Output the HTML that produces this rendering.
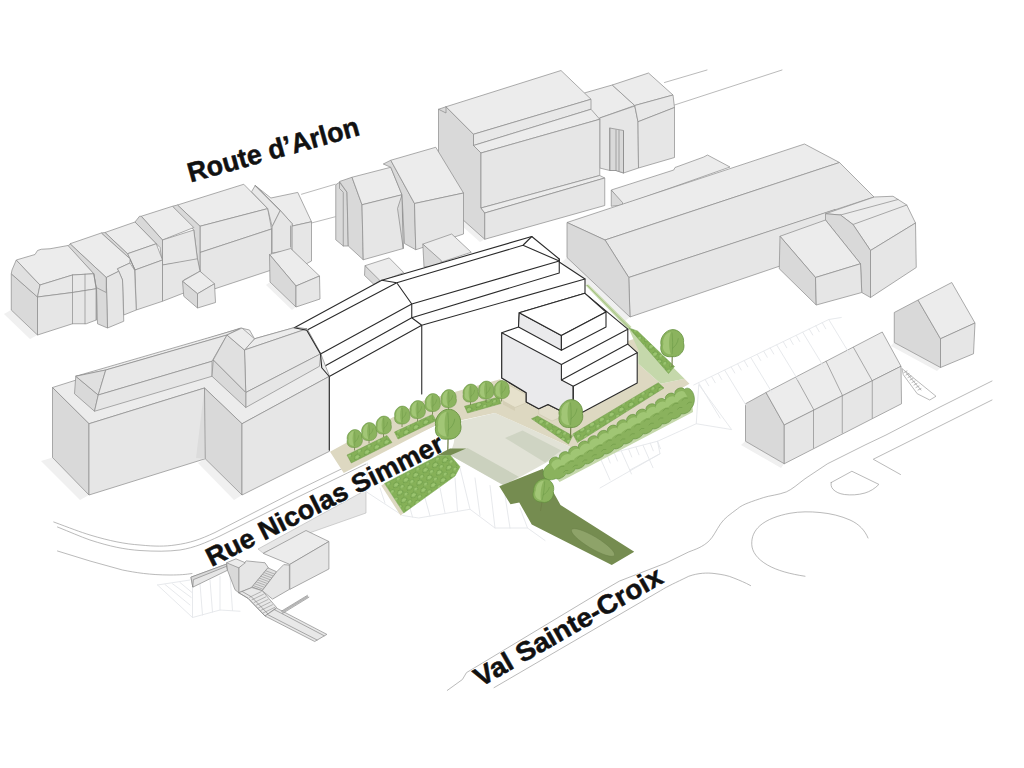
<!DOCTYPE html>
<html><head><meta charset="utf-8"><title>Site axonometric</title>
<style>
html,body{margin:0;padding:0;background:#fff;}
body{width:1024px;height:768px;overflow:hidden;font-family:"Liberation Sans",sans-serif;}
svg{display:block;position:absolute;left:0;top:0}
.t{fill:#ececec}.f{fill:#e8e8e8}.w{fill:#e6e6e6}.s{fill:#d9d9d9}.m{fill:#e0e0e0}
.t,.f,.w,.s,.m{stroke:#8a8a8a;stroke-width:.7;stroke-linejoin:round;vector-effect:non-scaling-stroke}
.l{fill:none;stroke:#8a8a8a;stroke-width:.7;vector-effect:non-scaling-stroke;stroke-linecap:round;stroke-linejoin:round}
.g{fill:none;stroke:#9c9c9c;stroke-width:.7;vector-effect:non-scaling-stroke;stroke-linecap:round;stroke-linejoin:round}
.k{fill:#fff;stroke:#2b2b2b;stroke-width:1.1;vector-effect:non-scaling-stroke;stroke-linejoin:round}
.kl{fill:none;stroke:#2b2b2b;stroke-width:1.1;stroke-linecap:round;vector-effect:non-scaling-stroke;stroke-linejoin:round}
text{font-family:"Liberation Sans",sans-serif;font-weight:bold;fill:#111}
.ks{fill:#eaeaec;stroke:#2b2b2b;stroke-width:1.1;vector-effect:non-scaling-stroke;stroke-linejoin:round}
.h{fill:none;stroke:#e4e6ea;stroke-width:.9;vector-effect:non-scaling-stroke;stroke-linecap:round;stroke-linejoin:round}
</style></head><body>
<svg width="1024" height="768" viewBox="0 0 1024 768">
<defs>
<pattern id="hp" width="44" height="34" patternUnits="userSpaceOnUse" patternTransform="rotate(-27)">
<rect width="44" height="34" fill="#86b158"/>
<path d="M2,17q3,-17 15,-15q11,1 11,13q-13,8 -26,2Z" fill="#9cc570" stroke="#5f8f3c" stroke-width="2.6"/>
<path d="M22,33q3,-15 13,-13q9,1 8,11q-10,6 -21,2Z" fill="#9cc570" stroke="#659541" stroke-width="2.4"/>
</pattern>
<g id="tree">
<path d="M0,0L.3,-13" stroke="#71824a" stroke-width="1" fill="none"/>
<path d="M0,-9C-7,-8 -11,-13 -9.5,-19C-11,-25 -6,-32 0,-32.5C6,-33 11,-27 10,-21C12,-15 7,-8 0,-9Z" fill="#8bb35e" stroke="#65913f" stroke-width=".7"/>
<path d="M-1,-11C-6,-11 -9,-15 -7.5,-20C-8.5,-25 -5,-30 -1,-30.5C-3,-25 -3,-17 -1,-11Z" fill="#a2c676"/>
<path d="M0,-11C1,-18 .5,-25 0,-30M0,-16C3,-18 5,-21 5.5,-25" stroke="#6c9a47" stroke-width=".5" fill="none"/>
</g>
<g id="tree2">
<path d="M0,0L.2,-8" stroke="#71824a" stroke-width="1.1" fill="none"/>
<g transform="translate(0,5)">
<path d="M0,-9C-7,-8 -11,-13 -9.5,-19C-11,-25 -6,-32 0,-32.5C6,-33 11,-27 10,-21C12,-15 7,-8 0,-9Z" fill="#8bb35e" stroke="#65913f" stroke-width=".7"/>
<path d="M-1,-11C-6,-11 -9,-15 -7.5,-20C-8.5,-25 -5,-30 -1,-30.5C-3,-25 -3,-17 -1,-11Z" fill="#a2c676"/>
<path d="M0,-11C1,-18 .5,-25 0,-30M0,-16C3,-18 5,-21 5.5,-25" stroke="#65913f" stroke-width=".5" fill="none"/>
</g></g>
</defs>
<rect width="1024" height="768" fill="#fff"/>
<g id="roads">
<path class="g" d="M53.75,522C70,528 80,532 90,535C110,541 125,544 140,545C155,546.5 165,546.5 175,545C190,543 200,539.5 215,532.5L296,491L347.5,466L437.5,424"/>
<path class="g" d="M57.5,527C70,532 80,536.5 90,540C110,546.5 125,549.5 140,550.5C155,551.5 168,551.5 180,550C195,547.5 205,543 220,536L296,498L366,464"/>
<path class="g" d="M57.5,551L90,561L122.5,570C135,572.5 150,575 170,575C180,575 186,574.5 192,573.5"/>
<polygon points="258,549 366,490 366,513 312,532 290,541 263,553" fill="#e7e7e7" stroke="#b5b5b5" stroke-width=".6"/>
<path class="g" d="M992,381L940,407L886,435L865,445L827.5,463.75L805,478.75C798,484 792,489.5 786.25,491.9C778,495 770,495.5 763.75,497.5C752,501.5 743,504 737.5,508.75C730,514.5 724.5,518 720.6,523.75C716,530.5 713.5,536.5 709.4,540.6C703,547 695,549.5 688.75,551.9L666,563L619.6,581L600.5,592L466.5,672.6L462.4,679.5L447.3,690.4"/>
<path class="g" d="M494,687.7L660.6,590.6C668,586 675,583 688.75,576.25C698,573 707,572.5 715,573.6C722,574.5 728,575.5 733.75,578C740,580.5 745,582.5 750.6,585.6"/>
<path class="g" d="M805,576.25C790,574 777,570.5 767.5,565C757,559 752,551.5 751.75,544.4C751.5,537 754,531 760,525.6C767,519.5 778,515.5 790,513.25C800,511.5 810,511.5 820,512.5C831,513.5 841,516 850,520C859,524 865,530.5 868,538"/>
<path class="g" d="M831.25,482.5L851.9,471.25L878.9,484.4C875,488.5 870,491.5 865,493C858,495 851,495.3 844.4,494.5C839.5,493.8 835.5,492 833,489.25C831,487 830.8,484.5 831.25,482.5Z"/>
<path class="g" d="M992,400L873.25,459.25L900.5,474.5"/>
<path class="g" d="M664.5,82.5L707,70M674.5,105L782,70M301.5,194.25L335.25,184.25M311.5,223L335.25,216.75"/>
</g>

<g id="shadows" fill="#f0f0f0">
<polygon points="52.5,457.5 89,495 80,500 41,461"/>
<polygon points="205.25,458.75 242,495 234,500 198,463"/>
<polygon points="11,310 37.5,335 30,339 4,314"/>
<polygon points="745.5,441 784,464 781,468 741,445"/>
<polygon points="894,342.5 940.5,367.5 937,371 891,346"/>
<polygon points="567,257.5 630,317 625,321 562,262"/>
<polygon points="438.5,198 484.75,239.25 480,242 434,201"/>
<polygon points="270,282 296,307 292,310 266,285"/>
</g>
<!--T1: left row of buildings-->
<g id="t1" transform="translate(0,160) scale(.25)">
<!-- E big -->
<g transform="scale(4) translate(0,-160)">
<polygon class="t" points="177.5,205 243.75,184.25 267.75,208.6 200,226.25"/>
<polygon class="f" points="200,226.25 267.75,208.6 271.5,229 200,252.5"/>
<polygon class="w" points="200,252.5 271.5,229 271.5,270 215,288.75 200,271"/>
</g>
<polygon class="s" points="710,180 800,265 800,445 790,400 775,280 690,185"/>
<!-- D -->
<polygon class="t" points="565,225 690,185 775,270 650,320"/>
<polygon class="f" points="650,320 775,280 790,400 650,420"/>
<polygon class="w" points="650,420 790,395 800,445 735,480 740,530 650,565"/>
<polygon class="s" points="565,225 650,320 650,420 640,350 625,335 540,248 558,225"/>
<!-- C -->
<polygon class="t" points="420,290 540,248 625,335 510,375"/>
<polygon class="f" points="510,375 625,335 650,400 540,440"/>
<polygon class="w" points="540,440 650,400 650,565 545,600"/>
<polygon class="s" points="420,290 510,375 540,440 520,395 405,292"/>
<!-- B -->
<polygon class="t" points="280,335 405,292 520,395 520,412 470,435 475,445 425,470"/>
<polygon class="f" points="475,445 470,435 520,412 538,440 540,480 545,600 495,620 490,480"/>
<polygon class="w" points="425,470 475,445 490,480 495,645 430,672"/>
<polygon class="s" points="385,470 425,470 430,672 390,655"/>
<polygon class="s" points="280,335 425,470 425,530 385,510 375,455 272,345"/>
<!-- A -->
<polygon class="s" points="45,455 45,600 150,700 150,548"/>
<polygon class="m" points="45,455 48,440 65,400 160,500 150,548"/>
<polygon class="t" points="65,400 140,378 150,362 165,357 200,355 272,342 375,455 290,460 160,500"/>
<polygon class="f" points="160,500 290,460 375,455 385,515 290,530 150,548"/>
<polygon class="w" points="150,548 290,530 385,515 385,640 345,655 290,655 150,700"/>
<path class="l" d="M290,460V655M340,457V655M375,455L385,515V640"/>
<!-- shed -->
<polygon class="t" points="730,485 800,445 858,495 790,535"/>
<polygon class="s" points="730,485 790,535 790,592 735,545"/>
<polygon class="w" points="790,535 858,495 862,570 790,592"/>
</g>
<!--T2: F house, G shed-->
<g id="t2">
<polygon class="f" points="255.25,185.5 251.5,191.75 267.75,208.6 272.1,226.75 280.25,210.5"/>
<polygon class="t" points="270.9,198 297.75,192.4 311.5,221.75 292.1,226.1 292.1,223.6 280.25,210.5 255.25,185.5"/>
<polygon class="w" points="272.1,226.75 280.25,210.5 292.1,223.6 292.1,250 272.1,253"/>
<polygon class="w" points="292.1,226.1 311.5,221.75 311.5,261 306,264 292.1,250"/>
<path class="l" d="M255.25,185.5L280.25,210.5M290.5,226V247"/>
<polygon class="t" points="269.5,254.5 290.75,248.5 319.5,276 296,286"/>
<polygon class="s" points="269.5,254.5 296,286 296,307 270,282"/>
<polygon class="w" points="296,286 319.5,276 320,299 296,307"/>
</g>
<!--T3: big top building L + M-->
<g id="t3" transform="translate(416,48) scale(.25)">
<polygon class="t" points="650,190 680,178 785,148 875,230 735,280 700,300"/>
<polygon class="w" points="735,280 875,232 888,295 890,480 830,500 800,490 775,490 735,480"/>
<polygon class="s" points="775,320 830,330 830,500 800,490 775,490"/>
<path class="l" d="M775,320V490M800,328V490M812,330V492M830,332V500"/>
<polygon class="t" points="785,148 930,100 1028,188 875,230"/>
<polygon class="f" points="875,230 1028,188 1034,238 888,295"/>
<polygon class="w" points="888,295 1034,238 1034,438 890,480"/>
<polygon class="s" points="90,245 120,235 230,345 230,390 260,420 260,640 275,660 275,765 90,600"/>
<polygon class="t" points="120,235 580,90 700,205 230,345"/>
<polygon class="f" points="230,345 700,205 700,245 230,390"/>
<polygon class="t" points="230,390 700,245 735,285 260,420"/>
<polygon class="w" points="260,420 735,285 735,510 260,640"/>
<polygon class="t" points="260,640 735,510 755,520 275,660"/>
<polygon class="w" points="275,660 755,520 755,630 275,765"/>
<path class="l" d="M90,245L120,260V235"/>
</g>
<!--T2b: H, I-->
<g id="t2b" transform="translate(192,96) scale(.25)">
<polygon class="s" points="575,355 590,345 620,385 625,600 605,600 575,575"/>
<path class="l" d="M590,345V370L605,385V600"/>
<polygon class="s" points="590,342 640,325 680,435 685,655 625,600 620,385"/>
<polygon class="t" points="640,325 795,285 840,395 680,435"/>
<polygon class="w" points="680,435 840,395 845,610 685,655"/>
<polygon class="s" points="840,395 845,610 822,450"/>
<polygon class="s" points="765,272 795,257 890,430 895,615 850,590 840,395 795,285"/>
<polygon class="t" points="795,257 975,205 1086,388 890,430"/>
<polygon class="w" points="890,430 1086,388 1086,552 895,615"/>
</g>
<!--T4: Q, N-->
<g id="t4" transform="translate(560,130) scale(.25)">
<polygon class="t" points="205,240 455,160 460,150 575,108 590,100 680,148 250,300"/>
<polygon class="s" points="205,240 250,290 250,300 205,305"/>
</g>
<g id="t4b">
<polygon class="t" points="567,222.5 804.5,144 839.5,162.5 605,240"/>
<polygon class="f" points="605,240 839.5,162.5 874,197 628.75,277.5"/>
<polygon class="w" points="628.75,277.5 835,209.5 835,250 780,266 630,317"/>
<polygon class="s" points="567,222.5 605,240 628.75,277.5 630,317 567,257.5"/>
</g>
<!--T5: R, P, S-->
<g id="t5" transform="translate(768,180) scale(.25)">
<polygon class="t" points="230,135 425,68 500,65 555,100 590,172 410,282 340,178 290,140"/>
<path class="l" d="M290,140L520,78M340,178L555,100"/>
<polygon class="s" points="230,135 290,140 340,178 410,282 410,470 375,450 370,335 230,160"/>
<polygon class="w" points="410,282 590,172 593,350 410,470"/>
<polygon class="t" points="48,225 230,160 370,335 190,390"/>
<polygon class="s" points="48,225 190,390 193,500 45,355"/>
<polygon class="w" points="190,390 370,335 375,450 193,500"/>
<polygon class="s" points="505,530 600,480 690,635 690,750 505,650"/>
<polygon class="t" points="600,480 735,410 828,572 690,635"/>
<polygon class="w" points="690,635 828,572 822,695 690,750"/>
</g>
<!--T6: row houses T-->
<g id="t6" transform="translate(736,300) scale(.25)">
<polygon class="s" points="38,415 120,370 193,500 193,655 38,565"/>
<polygon class="t" points="120,370 585,128 660,265 193,500"/>
<polygon class="w" points="193,500 660,265 662,415 193,655"/>
<path class="l" d="M240,310L310,437V592M360,245L425,380V532M470,190L545,323V472"/>
<path class="g" d="M665,275L800,385L775,400L725,375L670,300Z M680,290L740,360 M672,290l12,-6M680,300l12,-6M688,310l12,-6M696,320l12,-6M704,330l12,-6M712,340l12,-6M720,350l12,-6M728,360l12,-6"/>
</g>
<!--HATCH-->
<g id="hatch1" transform="translate(600,310) scale(.25)">
<path class="h" d="M375,300L915,38L965,30 M395,300L385,455L525,478Z M385,455L230,525L240,575L0,712 M0,585L230,525 M240,575L120,640 M395,292l85,140M421,279l14,24M447,267l14,24M473,254l14,24M499,241l85,140M525,228l14,24M551,216l14,24M577,203l14,24M603,190l85,140M629,178l14,24M655,165l14,24M681,152l14,24M707,140l85,140M733,127l14,24M759,114l14,24M785,102l14,24M811,89l85,140M837,76l14,24M863,63l14,24M889,51l14,24M915,38l85,140 M0,590l40,90M29,582l12,30M58,574l12,30M86,566l40,90M115,558l12,30M144,549l12,30M172,541l40,90M201,533l12,30M230,525l12,30"/>
</g>
<g id="hatch2" transform="translate(320,368) scale(.25)">
<path class="h" d="M185,495L330,590L395,600L600,565L700,640L830,640L900,690 M190,380L185,495 M560,400L600,565M620,440L640,590M680,470L700,640M740,510L760,640M800,560L830,640 M420,520L440,592M480,480L500,580M540,440L550,572M360,560L370,596M300,520L320,580M240,480L260,540"/>
</g>
<g id="hatch3" transform="translate(40,470) scale(.25)">
<path class="h" d="M470,460L600,440 M470,460L610,590L720,560L800,565 M610,465L610,590M640,455L650,580M680,440L690,568M720,425L720,560M760,420L770,562 M500,458L600,540M530,455L605,510M560,450L608,490"/>
</g>
<!--LANDSCAPE-->
<g id="land11" transform="translate(320,368) scale(.25)">
<polygon fill="#ddd8c1" points="40,335 410,132 720,45 830,100 830,130 700,180 560,210 470,225 95,420"/>
<polygon fill="#e1e2d6" points="548,215 700,180 1010,320 740,470 520,348 535,300"/>
<polygon fill="#cfd4c3" points="740,280 810,250 965,330 900,378"/>
<polygon fill="#cbd1be" points="520,348 590,320 795,435 735,470"/>
<polygon fill="#758c50" points="465,350 520,322 585,322 520,350"/>
<polygon fill="#ddd8c1" points="245,470 258,462 335,580 322,590"/>
<polygon fill="url(#hp)" stroke="#7aa852" stroke-width="2" points="258,462 470,352 520,348 560,395 540,432 335,580"/>
</g>
<g id="land13" transform="translate(448,430) scale(.25)">
<polygon fill="#758c50" points="205,225 380,155 400,210 450,300 745,487 655,540 335,378 285,290 250,297"/>
<ellipse cx="580" cy="450" rx="100" ry="24" transform="rotate(31 580 450)" fill="#8ea369" stroke="#6a8048" stroke-width="2"/>
</g>
<g id="land12" transform="translate(512,300) scale(.25)">
<polygon fill="#ddd8c1" points="-68,452 -68,340 505,150 505,255 595,335 690,315 710,335 240,605 232,587"/>
<polygon fill="#c5d8ab" points="465,110 640,265 690,315 595,335 505,255 505,200"/>
<polygon fill="#c5d8ab" points="293,-60 306,-62 478,108 465,118"/>
<path d="M300,-60L470,112" stroke="#8fb565" stroke-width="2.5" fill="none"/>
<polygon fill="#c5d8ab" points="180,715 640,470 722,425 724,448 640,492 190,728"/>
<polygon fill="url(#hp)" stroke="#6e9c49" stroke-width="2" points="468,112 502,124 650,266 626,294"/>
<polygon fill="url(#hp)" stroke="#6e9c49" stroke-width="2" points="243,536 585,331 608,352 262,570"/>
<polygon fill="url(#hp)" stroke="#6e9c49" stroke-width="2" points="78,475 102,464 242,543 226,576"/>
<path fill="#8ab25d" stroke="#5f8f3c" stroke-width="2.4" d="M150,655C144,635 175,618 189,634C183,614 214,597 227,612C221,593 252,576 266,591C260,572 291,554 304,570C298,550 329,533 343,549C337,529 368,512 381,527C376,508 406,491 420,506C414,486 445,469 459,485C453,465 484,448 497,463C491,444 522,427 536,442C530,423 561,405 574,421C568,401 599,384 613,400C607,380 638,363 651,378C646,359 676,342 690,357C718,335 748,400 716,434C717,445 686,461 677,454C678,465 647,481 639,474C640,485 609,501 600,494C601,505 570,521 562,514C562,525 532,541 523,534C524,545 493,561 485,554C485,565 454,581 446,574C447,585 416,601 407,594C408,605 377,621 369,614C370,625 339,641 330,634C331,645 300,661 292,654C292,665 262,681 253,674C254,685 223,701 215,694C215,705 184,721 176,714C120,738 108,680 150,655Z"/>
<path fill="#a0c674" d="M158,662C154,646 184,629 196,641C192,625 222,608 234,620C230,604 260,587 272,599C268,583 298,566 310,578C306,562 336,545 348,557C344,541 374,524 386,536C382,520 412,503 424,515C420,499 450,482 462,494C458,478 488,461 500,473C496,457 526,440 538,452C534,436 564,419 576,431C572,415 602,398 614,410C610,394 640,377 652,389C648,373 678,356 690,368L702,388C694,383 664,400 664,409C656,404 626,421 626,430C619,425 588,442 588,451C581,446 550,463 551,472C543,467 513,484 513,493C505,488 475,505 475,514C467,509 437,526 437,535C429,530 399,547 399,556C391,551 361,568 361,577C354,572 323,589 323,598C316,593 285,610 286,619C278,614 248,631 248,640C240,635 210,652 210,661C202,656 172,673 172,682Z"/>
<path fill="none" stroke="#65913f" stroke-width="1.8" d="M185,676q10,-16 24,-10M205,690q8,-12 20,-8M223,655q10,-16 24,-10M243,669q8,-12 20,-8M261,634q10,-16 24,-10M281,648q8,-12 20,-8M299,613q10,-16 24,-10M319,627q8,-12 20,-8M337,592q10,-16 24,-10M357,606q8,-12 20,-8M375,571q10,-16 24,-10M395,585q8,-12 20,-8M413,550q10,-16 24,-10M433,564q8,-12 20,-8M451,529q10,-16 24,-10M471,543q8,-12 20,-8M489,508q10,-16 24,-10M509,522q8,-12 20,-8M527,487q10,-16 24,-10M547,501q8,-12 20,-8M565,466q10,-16 24,-10M585,480q8,-12 20,-8M603,445q10,-16 24,-10M623,459q8,-12 20,-8M641,424q10,-16 24,-10M661,438q8,-12 20,-8M679,403q10,-16 24,-10M699,417q8,-12 20,-8"/>
</g>

<!--J K small-->
<g id="jk">
<polygon class="t" points="365,265.7 389.2,257.9 403.75,272.6 379.8,282"/>
<polygon class="s" points="365,265.7 379.8,280.4 374,284.5 364.5,275.4"/>
<polygon class="t" points="422.8,244.1 451.7,234 471.25,252.25 441.6,262"/>
<polygon class="s" points="422.8,244.1 441.25,260.5 441.25,266 424,267"/>
</g>
<!--V new building-->
<g id="v">
<polygon fill="#fff" points="294.25,327.75 381.75,280.25 531.75,236.5 559.25,259 559.25,262 585,279 585,293.3 519.25,312.8 518.5,326.9 501.75,332.8 501.75,378 422.5,394 329.25,451 329.25,376.5 321.75,367.75 320.5,354 306.75,330.25"/>
<path class="kl" d="M329.25,450V376.5L321.75,367.75L320.5,354L306.75,330.25L294.25,327.75L381.75,280.25L531.75,236.5L559.25,259V262L585,279V293.3"/>
<path class="kl" d="M306.75,330.25L396.75,282.75L523,245.25L531.75,236.5M381.75,280.25L396.75,282.75L411.75,304V317.75L421.75,325.25V394M320.5,354L411.75,304L559.25,261M321.75,367.75L411.75,317.75L559.25,273V259M329.25,376.5L421.75,325.25L585,279M523,245.25L559.25,261"/>
</g>
<g id="steps">
<polygon fill="#e6e1cc" stroke="#c9c3a8" stroke-width=".5" points="501.5,381 526,394.5 526,403 515,407.5 503,401"/>
<polygon fill="#e3decb" stroke="#c9c3a8" stroke-width=".5" points="538.75,409 548,405 560,411 567,414.5 552,421 538.75,414"/>
<polygon fill="#d5cfb6" stroke="none" points="503,401 515,407.5 515,411 503,404.5"/>
</g>
<!--W tiered-->
<g id="w">
<polygon class="k" points="501.75,332.8 518.5,326.9 519.25,312.8 584.9,293.3 627.8,329.2 627.8,344.1 637.2,352.7 637.2,383.1 582.5,412.2 573.2,406 560,410.5 548,404.5 538.75,408.75 526.25,402 526.25,392.7 501.75,378"/>
<polygon class="ks" points="501.75,332.8 561.4,364.4 561.4,380 573.2,386.25 573.2,406 560,410.5 548,404.5 538.75,408.75 526.25,402 526.25,392.7 501.75,378"/>
<polygon class="ks" points="519.25,312.8 561.4,335.5 561.4,350.3 518.5,326.9"/>
<polygon class="k" points="519.25,312.8 584.9,293.3 606,312 561.4,335.5"/>
<polygon class="k" points="561.4,335.5 606,312 606,326.9 561.4,350.3"/>
<path class="kl" d="M561.4,364.4L627.8,329.2M561.4,380L627.8,344.1M573.2,386.25L637.2,352.7M573.2,386.25V406"/>
</g>
<!--X block + stairs-->
<g id="xb">
<polygon class="t" points="263.25,553.4 306,530.5 328.9,541.5 289.8,564.4"/>
<polygon class="w" points="289.8,564.4 328.9,541.5 328.9,569 289.8,589.4"/>
<g transform="translate(160,520) scale(.1875)">
<polygon class="w" points="165,305 355,235 360,268 175,358"/>
<polygon class="s" points="165,305 355,235 357,246 178,318 175,358"/>
<polygon class="w" points="420,255 460,218 560,228 578,255 490,360 420,388"/>
<polygon class="t" points="355,228 405,207 455,228 420,255 360,268"/>
<polygon class="s" points="355,228 420,255 420,388 400,372 360,268"/>
<polygon class="m" points="490,357 575,255 622,276 545,377"/>
<path class="g" d="M498,350l48,18M506,340l48,18M514,330l48,18M522,320l48,18M530,310l48,18M538,300l48,18M546,290l48,18M554,280l48,18M562,270l48,18"/>
<polygon class="w" points="545,377 622,276 660,238 690,240 690,370 600,422"/>
<polygon class="f" points="420,388 490,360 545,377 622,467 560,512 470,418"/>
<path class="g" d="M478,412l62,-30M490,426l62,-30M502,440l62,-30M514,454l62,-30M526,468l62,-30M538,482l62,-30M550,496l62,-30"/>
<path class="l" d="M420,388L470,418L560,512M438,381L488,410L575,500"/>
<polygon class="f" points="560,512 622,470 890,610 825,648"/>
<path class="l" d="M575,505L838,640M610,478L875,617"/>
<path d="M650,492L790,407" stroke="#b5b5b5" stroke-width="9" fill="none"/>
<path class="l" d="M648,486L786,402M654,498L794,412"/>
</g>
</g>
<!--TREES-->
<g id="trees">
<g transform="translate(320,368) scale(.25)">
<polygon fill="url(#hp)" stroke="#6e9c49" stroke-width="2" points="108,348 268,270 288,298 125,380"/>
<polygon fill="url(#hp)" stroke="#6e9c49" stroke-width="2" points="298,256 450,186 465,210 312,284"/>
<polygon fill="url(#hp)" stroke="#6e9c49" stroke-width="2" points="578,153 715,116 724,142 590,180"/>
</g>
<use href="#tree2" transform="translate(354.5,450.5) scale(.76)"/>
<use href="#tree2" transform="translate(369,443.5) scale(.76)"/>
<use href="#tree2" transform="translate(383.5,437) scale(.76)"/>
<use href="#tree2" transform="translate(402,427) scale(.76)"/>
<use href="#tree2" transform="translate(417.5,421.5) scale(.76)"/>
<use href="#tree2" transform="translate(432.5,414.5) scale(.76)"/>
<use href="#tree2" transform="translate(448.5,410.5) scale(.76)"/>
<use href="#tree2" transform="translate(470.5,405) scale(.76)"/>
<use href="#tree2" transform="translate(486,402) scale(.76)"/>
<use href="#tree2" transform="translate(501.5,401.5) scale(.76)"/>
<use href="#tree" transform="translate(447.8,450.5) scale(1.27)"/>
<use href="#tree" transform="translate(570.5,438) scale(1.18)"/>
<use href="#tree" transform="translate(672,367) scale(1.15)"/>
<use href="#tree" transform="translate(540.5,511) scale(1.0) rotate(8)"/>
</g>
<!--T7: U block lower-left-->
<g id="t7">
<polygon class="t" points="52.5,387.5 240.75,328 249.5,330 254.5,338.75 294.5,327.5 307,328.75 320.75,353.75 329.5,376.25 242,423.75 204.5,388 89,423.75"/>
<polygon class="s" points="52.5,387.5 89,423.75 89,495 52.5,457.5"/>
<polygon class="w" points="89,423.75 204.5,388 205.25,458.75 89,495"/>
<polygon points="204.5,388 205.25,458.75 196,458" fill="#dcdcdc"/>
<polygon class="s" points="204.5,388 242,423.75 242,495 205.25,458.75"/>
<polygon class="w" points="242,423.75 329.5,376.25 329.5,451.25 242,495"/>
<polygon class="t" points="75.75,376.25 239.5,328.75 227,335 105.75,370"/>
<polygon class="s" points="75.75,376.25 98.25,395 94.5,411.25 74.5,393.75"/>
<polygon class="m" points="75.75,376.25 105.75,370 98.25,395"/>
<polygon class="f" points="105.75,370 227,335 212,361.25 98.25,395"/>
<polygon class="w" points="98.25,395 212,361.25 212,376.25 94.5,411.25"/>
<polygon class="t" points="244.5,350 254.5,338.75 294.5,327.5 307,328.75"/>
<polygon class="f" points="244.5,350 307,328.75 320.75,353.75 245.75,392.5"/>
<polygon class="w" points="245.75,392.5 320.75,353.75 319.5,366.25 245.75,407.5"/>
<polygon class="m" points="213.25,360 227,335 244.5,350 245.75,392.5"/>
<polygon class="s" points="213.25,360 245.75,392.5 245.75,407.5 212,376.25"/>
<polygon class="t" points="227,335 242,328 254.5,338.75 244.5,350"/>
</g>
<path class="kl" d="M329.25,450V376.5L321.75,367.75L320.5,354L306.75,330.25L294.25,327.75"/>
<!--TEXT-->
<g id="txt" stroke-linejoin="round">
<text id="tx1" transform="translate(190.5,182.5) rotate(-15.6)" font-size="27.5" textLength="177" lengthAdjust="spacingAndGlyphs" stroke="#111" stroke-width=".5">Route d’Arlon</text>
<text transform="translate(211.5,567) rotate(-26.6)" font-size="26.5" textLength="262" lengthAdjust="spacingAndGlyphs" stroke="#fff" stroke-width="1.8" fill="#fff">Rue Nicolas Simmer</text>
<text id="tx2" transform="translate(211.5,567) rotate(-26.6)" font-size="26.5" textLength="262" lengthAdjust="spacingAndGlyphs" stroke="#111" stroke-width=".5">Rue Nicolas Simmer</text>
<text transform="translate(480.5,687.5) rotate(-29.8)" font-size="27" textLength="212.5" lengthAdjust="spacingAndGlyphs" stroke="#fff" stroke-width="1.8" fill="#fff">Val Sainte-Croix</text>
<text id="tx3" transform="translate(480.5,687.5) rotate(-29.8)" font-size="27" textLength="212.5" lengthAdjust="spacingAndGlyphs" stroke="#111" stroke-width=".5">Val Sainte-Croix</text>
</g>
</svg>
</body></html>
